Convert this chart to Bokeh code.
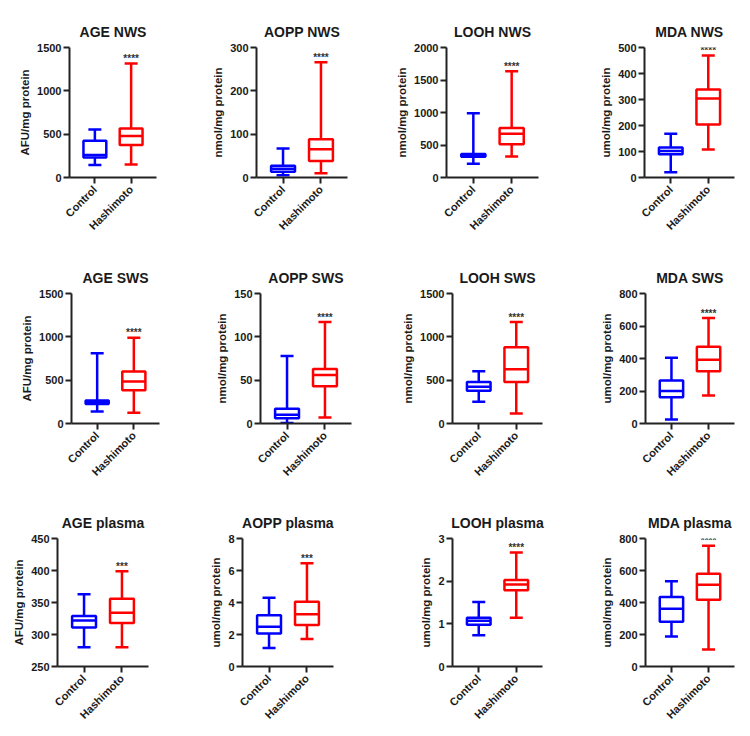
import math
from bokeh.plotting import figure
from bokeh.layouts import column, row
from bokeh.models import ColumnDataSource, FactorRange, Range1d, FixedTicker, Whisker, TeeHead
from bokeh.transform import dodge
from bokeh.core.properties import value
from bokeh.embed import file_html
from bokeh.resources import INLINE

# ---------------- data ----------------
groups = ["Control", "Hashimoto"]
group_colors = ["#0000FF", "#FF0000"]

titles = ["AGE NWS", "AOPP NWS", "LOOH NWS", "MDA NWS",
          "AGE SWS", "AOPP SWS", "LOOH SWS", "MDA SWS",
          "AGE plasma", "AOPP plasma", "LOOH plasma", "MDA plasma"]

y_labels = ["AFU/mg protein", "nmol/mg protein", "nmol/mg protein", "umol/mg protein",
            "AFU/mg protein", "nmol/mg protein", "nmol/mg protein", "umol/mg protein",
            "AFU/mg protein", "umol/mg protein", "umol/mg protein", "umol/mg protein"]

y_ticks = [[0, 500, 1000, 1500], [0, 100, 200, 300], [0, 500, 1000, 1500, 2000], [0, 100, 200, 300, 400, 500],
           [0, 500, 1000, 1500], [0, 50, 100, 150], [0, 500, 1000, 1500], [0, 200, 400, 600, 800],
           [250, 300, 350, 400, 450], [0, 2, 4, 6, 8], [0, 1, 2, 3], [0, 200, 400, 600, 800]]

significance = ["****", "****", "****", "****",
                "****", "****", "****", "****",
                "***", "***", "****", "****"]

# box statistics: [min, q1, median, q3, max]
control_stats = [
    [145, 230, 260, 425, 555],
    [5, 13, 20, 27, 67],
    [210, 320, 340, 360, 990],
    [20, 89, 102, 115, 168],
    [138, 225, 250, 265, 810],
    [0.5, 6, 10, 17, 78],
    [250, 377, 423, 480, 604],
    [24, 161, 200, 265, 404],
    [280, 311, 322, 329, 363],
    [1.15, 2.07, 2.48, 3.2, 4.3],
    [0.73, 0.98, 1.07, 1.14, 1.51],
    [187, 279, 361, 435, 533],
]
hashimoto_stats = [
    [150, 375, 480, 565, 1315],
    [10, 38, 65, 88, 266],
    [325, 510, 675, 760, 1635],
    [108, 204, 304, 338, 469],
    [125, 385, 485, 600, 990],
    [7, 43, 56, 63, 117],
    [115, 480, 625, 880, 1170],
    [173, 322, 392, 473, 649],
    [280, 318, 334, 356, 399],
    [1.72, 2.6, 3.27, 4.05, 6.45],
    [1.14, 1.79, 1.92, 2.03, 2.67],
    [107, 417, 511, 580, 755],
]

# ---------------- layout geometry ----------------
ROW_H = [250, 245, 233]
FRAME_TOP = [47, 43, 43]
FRAME_H = 130
AXIS_X = [[69, 256, 446, 644], [71, 260, 452, 645], [57, 242, 452, 645]]
FRAME_W = [[87, 91, 92, 90], [88, 91, 90, 89], [91, 91, 90, 89]]
TOTAL_W = 741

FONT = "Liberation Sans"
INK = "#1a1a1a"
LW = 2.5


def style_axis(ax):
    ax.axis_line_width = 2
    ax.axis_line_color = "#222222"
    ax.major_tick_line_width = 2
    ax.major_tick_line_color = "#222222"
    ax.major_tick_out = 6
    ax.major_tick_in = 0
    ax.minor_tick_line_color = None
    ax.major_label_text_font = FONT
    ax.major_label_text_font_style = "bold"
    ax.major_label_text_font_size = "11px"
    ax.major_label_text_color = INK


rows = []
for r in range(3):
    starts = [0] + [ax - 64 for ax in AXIS_X[r][1:]]
    ends = starts[1:] + [TOTAL_W]
    figs = []
    for c in range(4):
        i = r * 4 + c
        L = AXIS_X[r][c] - starts[c]
        W = ends[c] - starts[c]
        R = W - L - FRAME_W[r][c]
        B = ROW_H[r] - FRAME_TOP[r] - FRAME_H
        ticks = y_ticks[i]
        p = figure(width=W, height=ROW_H[r],
                   x_range=FactorRange(factors=groups, range_padding=0.2),
                   y_range=Range1d(ticks[0], ticks[-1]),
                   output_backend="svg", toolbar_location=None,
                   min_border_left=L, min_border_right=R,
                   min_border_top=FRAME_TOP[r], min_border_bottom=B,
                   title=titles[i])
        p.outline_line_color = None
        p.xgrid.grid_line_color = None
        p.ygrid.grid_line_color = None
        p.background_fill_color = "white"
        p.border_fill_color = "white"

        p.title.align = "center"
        p.title.text_font = FONT
        p.title.text_font_style = "bold"
        p.title.text_font_size = "14px"
        p.title.text_color = INK
        p.title.standoff = 15

        style_axis(p.xaxis[0])
        style_axis(p.yaxis[0])
        p.yaxis[0].ticker = FixedTicker(ticks=ticks)
        p.yaxis[0].major_label_standoff = 2
        p.yaxis[0].axis_label = y_labels[i]
        p.yaxis[0].axis_label_text_font = FONT
        p.yaxis[0].axis_label_text_font_style = "bold"
        p.yaxis[0].axis_label_text_font_size = "11.5px"
        p.yaxis[0].axis_label_text_color = INK
        p.yaxis[0].axis_label_standoff = 3
        p.xaxis[0].major_label_orientation = math.pi / 4
        p.xaxis[0].major_label_standoff = 4

        for g, col, st in zip(groups, group_colors, [control_stats[i], hashimoto_stats[i]]):
            src = ColumnDataSource(dict(cat=[g], lo=[st[0]], q1=[st[1]], med=[st[2]],
                                        q3=[st[3]], hi=[st[4]]))
            up = Whisker(source=src, base="cat", lower="q3", upper="hi", dimension="height",
                         line_color=col, line_width=LW,
                         upper_head=TeeHead(size=13, line_color=col, line_width=LW),
                         lower_head=None)
            dn = Whisker(source=src, base="cat", lower="lo", upper="q1", dimension="height",
                         line_color=col, line_width=LW,
                         lower_head=TeeHead(size=13, line_color=col, line_width=LW),
                         upper_head=None)
            p.add_layout(up)
            p.add_layout(dn)
            p.vbar(x="cat", top="q3", bottom="q1", width=0.63, source=src,
                   fill_color="white", line_color=col, line_width=LW)
            p.segment(x0=dodge("cat", -0.315, range=p.x_range), x1=dodge("cat", 0.315, range=p.x_range),
                      y0="med", y1="med", source=src, line_color=col, line_width=LW)

        star_src = ColumnDataSource(dict(cat=[groups[1]], y=[hashimoto_stats[i][4]], t=[significance[i]]))
        p.text(x="cat", y="y", text="t", source=star_src, text_align="center",
               text_baseline="alphabetic", y_offset=-5, text_font=value(FONT),
               text_font_size="10px", text_font_style="bold", text_color="#333333")
        figs.append(p)
    rows.append(row(*figs))

layout = column(*rows)
open("out.html", "w").write(file_html(layout, INLINE))
